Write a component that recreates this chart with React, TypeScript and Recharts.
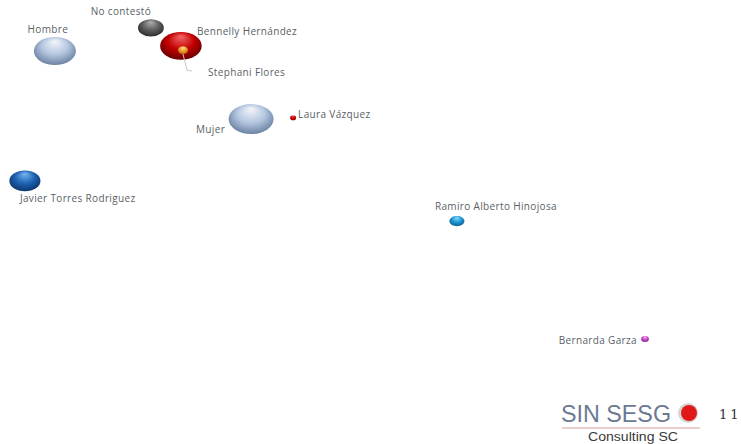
import React from "react";
import { ScatterChart, Scatter, XAxis, YAxis, ZAxis } from "recharts";

// Correspondence-map coordinates (dimension 1, dimension 2) and masses
const names = [
  "Hombre",
  "No contestó",
  "Bennelly Hernández",
  "Stephani Flores",
  "Mujer",
  "Laura Vázquez",
  "Javier Torres Rodriguez",
  "Ramiro Alberto Hinojosa",
  "Bernarda Garza",
];
const dim1 = [-0.817, -0.497, -0.397, -0.39, -0.163, -0.023, -0.917, 0.523, 1.15];
const dim2 = [0.31, 0.387, 0.327, 0.313, 0.083, 0.087, -0.123, -0.257, -0.65];
const mass = [77, 29, 75, 5, 88, 1.8, 42, 10, 3];

const data = names.map((name, i) => ({ name, x: dim1[i], y: dim2[i], z: mass[i] }));

type Style = {
  grad: string;
  stops: [string, string, string];
  dx: number;
  dy: number;
  anchor: "start" | "middle" | "end";
  leader?: boolean;
};

const styles: Record<string, Style> = {
  Hombre: { grad: "gHom", stops: ["#f4f7fc", "#b3c5de", "#667d9f"], dx: -7, dy: -22, anchor: "middle" },
  "No contestó": { grad: "gNo", stops: ["#b0b0b0", "#5e5e5e", "#2a2a2a"], dx: -30, dy: -17, anchor: "middle" },
  "Bennelly Hernández": { grad: "gBen", stops: ["#f46a6a", "#c40000", "#640000"], dx: 16, dy: -15, anchor: "start" },
  "Stephani Flores": { grad: "gSte", stops: ["#ffe0a0", "#f0a030", "#b86a10"], dx: 25, dy: 22, anchor: "start", leader: true },
  Mujer: { grad: "gMuj", stops: ["#f4f7fc", "#b3c5de", "#667d9f"], dx: -26, dy: 10, anchor: "end" },
  "Laura Vázquez": { grad: "gLau", stops: ["#ff5050", "#d00000", "#900000"], dx: 5, dy: -4, anchor: "start" },
  "Javier Torres Rodriguez": { grad: "gJav", stops: ["#78b6ee", "#1d62b2", "#0b3468"], dx: -5, dy: 17, anchor: "start" },
  "Ramiro Alberto Hinojosa": { grad: "gRam", stops: ["#8ddcf8", "#1e96d4", "#0d5f8e"], dx: -22, dy: -15, anchor: "start" },
  "Bernarda Garza": { grad: "gBer", stops: ["#f6c0f6", "#c94ac9", "#7a2080"], dx: -8, dy: 1, anchor: "end" },
};

const Bubble = (props: any) => {
  const { cx, cy, payload } = props;
  const st = styles[payload.name];
  const r = props.width ? props.width / 2 : Math.sqrt((props.size || 64) / Math.PI);
  const squash = r < 5 ? 0.12 : 0.2;
  const rx = r * (1 + squash);
  const ry = r * (1 - squash);
  return (
    <g>
      {st.leader && (
        <polyline
          points={`${cx},${cy + 4} ${cx + 4},${cy + 20} ${cx + 9},${cy + 21}`}
          fill="none"
          stroke="#c8c8c8"
          strokeWidth={1}
        />
      )}
      <ellipse cx={cx} cy={cy} rx={rx} ry={ry} fill={`url(#${st.grad})`} />
      <text
        x={cx + st.dx}
        y={cy + st.dy}
        textAnchor={st.anchor}
        dominantBaseline="central"
        fontFamily="'Open Sans', sans-serif"
        fontSize={10}
        letterSpacing={0.35}
        fill="#5a5f66"
      >
        {payload.name}
      </text>
    </g>
  );
};

export default function App() {
  return (
    <div style={{ position: "absolute", left: 0, top: 0, width: 741, height: 444, background: "#fff" }}>
      <ScatterChart width={741} height={444} margin={{ top: 0, right: 0, bottom: 0, left: 0 }}>
        <defs>
          {Object.values(styles).map((s) => (
            <radialGradient key={s.grad} id={s.grad} cx="50%" cy="45%" r="58%" fx="50%" fy="15%">
              <stop offset="0%" stopColor={s.stops[0]} />
              <stop offset="55%" stopColor={s.stops[1]} />
              <stop offset="100%" stopColor={s.stops[2]} />
            </radialGradient>
          ))}
        </defs>
        <XAxis type="number" dataKey="x" domain={[-1, 1.47]} hide />
        <YAxis type="number" dataKey="y" domain={[-1, 0.48]} hide />
        <ZAxis type="number" dataKey="z" domain={[0, 100]} range={[0, 1257]} />
        <Scatter data={data} shape={<Bubble />} isAnimationActive={false} />
      </ScatterChart>
      <svg width={741} height={444} style={{ position: "absolute", left: 0, top: 0, pointerEvents: "none" }}>
        <text x={561} y={422} fontFamily="'Liberation Sans', Arial, sans-serif" fontSize={24} fill="#6b7a92" textLength={110} lengthAdjust="spacingAndGlyphs">
          SIN SESG
        </text>
        <circle cx={688} cy={413} r={10} fill="#d6d6d6" />
        <circle cx={689} cy={413} r={8} fill="#e01818" />
        <line x1={562} y1={428} x2={700} y2={428} stroke="#d99a9a" strokeWidth={1} />
        <text x={588} y={441} fontFamily="'Liberation Sans', Arial, sans-serif" fontSize={12} fill="#3a3a3a" textLength={90} lengthAdjust="spacingAndGlyphs">
          Consulting SC
        </text>
        <text x={719} y={419} fontFamily="'DejaVu Serif', serif" fontSize={13} fill="#333" letterSpacing={3}>
          11
        </text>
      </svg>
    </div>
  );
}
